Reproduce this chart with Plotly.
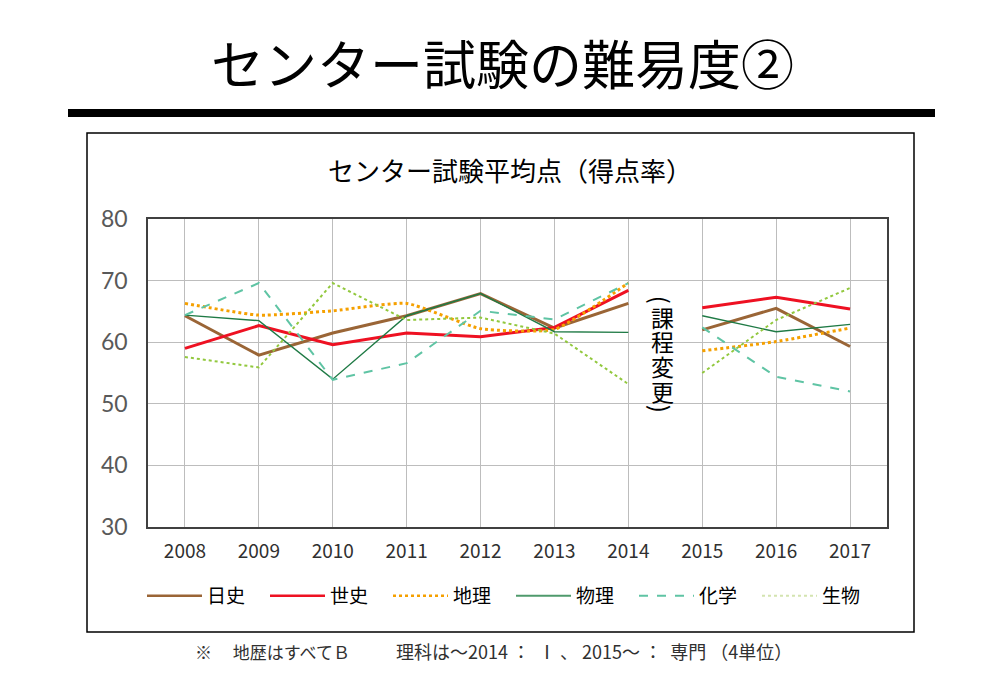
import plotly.graph_objects as go

# ---- data ----
years = [2008, 2009, 2010, 2011, 2012, 2013, 2014, 2015, 2016, 2017]
subjects = ["日史", "世史", "地理", "物理", "化学", "生物"]
nichi_shi = [64.3, 57.9, 61.5, 64.3, 67.9, 62.3, 66.3, 62.0, 65.5, 59.3]
se_shi = [59.0, 62.7, 59.6, 61.5, 60.9, 62.4, 68.4, 65.6, 67.3, 65.4]
chiri = [66.3, 64.4, 65.1, 66.3, 62.2, 62.1, 69.6, 58.6, 60.1, 62.3]
butsuri = [64.4, 63.5, 54.0, 64.3, 67.9, 61.7, 61.6, 64.3, 61.7, 62.9]
kagaku = [64.4, 69.6, 53.9, 56.6, 65.1, 63.7, 69.6, 62.4, 54.4, 52.0]
seibutsu = [57.6, 55.9, 69.6, 63.6, 64.0, 61.4, 53.2, 55.0, 63.6, 68.8]
y_ticks = [30, 40, 50, 60, 70, 80]
curriculum_change_year = 2015   # lines break between 2014 and 2015

series_values = [nichi_shi, se_shi, chiri, butsuri, kagaku, seibutsu]

# ---- styles ----
styles = [
    dict(color="#9a6536", width=3, dash="solid", shape="linear"),
    dict(color="#ee1122", width=3, dash="solid", shape="linear"),
    dict(color="#f5a000", width=3, dash="dot", shape="spline"),
    dict(color="#1f7a45", width=1.4, dash="solid", shape="linear"),
    dict(color="#5fc4a4", width=2, dash="dash", shape="linear"),
    dict(color="#92c83e", width=2, dash="dot", shape="linear"),
]
legend_colors = ["#9a6536", "#ee1122", "#f5a000", "#4f9a6c", "#5fc4a4", "#d4e4b0"]

# plot area in pixels
L, R, T, B = 148, 887, 219, 527
W, H = 1000, 700


def px(x):
    return (x - L) / (R - L)


def py(y):
    return (B - y) / (B - T)


fig = go.Figure()

for name, vals, st, lc in zip(subjects, series_values, styles, legend_colors):
    xs, ys = [], []
    for yr, v in zip(years, vals):
        if yr == curriculum_change_year:
            xs.append(None)
            ys.append(None)
        xs.append(yr)
        ys.append(v)
    fig.add_trace(go.Scatter(
        x=xs, y=ys, mode="lines", name=name, showlegend=False,
        line=dict(color=st["color"], width=st["width"], dash=st["dash"],
                  shape=st["shape"], smoothing=0.5 if st["shape"] == "spline" else None),
        connectgaps=False, hoverinfo="x+y+name",
    ))
    # legend-only entry
    fig.add_trace(go.Scatter(
        x=[None], y=[None], mode="lines", name=name, showlegend=True,
        line=dict(color=lc, width=2.5 if st["width"] >= 2.5 else 2, dash=st["dash"]),
    ))

fig.update_xaxes(
    range=[2007.5, 2017.5], tickvals=years, ticktext=[str(y) for y in years],
    showgrid=True, gridcolor="#bdbdbd", gridwidth=1,
    showline=True, linecolor="#404040", linewidth=1.5, mirror=True,
    ticks="", ticklabelstandoff=6,
    tickfont=dict(family="Noto Sans CJK JP", size=19, color="#303030"),
    zeroline=False,
)
fig.update_yaxes(
    range=[30, 80], tickvals=y_ticks,
    showgrid=True, gridcolor="#bdbdbd", gridwidth=1,
    showline=True, linecolor="#404040", linewidth=1.5, mirror=True,
    ticks="", ticklabelstandoff=14,
    tickfont=dict(family="Lato", size=23, color="#595959"),
    zeroline=False,
)

shapes = [
    # outer frame
    dict(type="rect", xref="paper", yref="paper",
         x0=px(87), x1=px(914), y0=py(632), y1=py(133),
         line=dict(color="#000000", width=1.5), fillcolor="rgba(0,0,0,0)", layer="below"),
    # thick title bar
    dict(type="rect", xref="paper", yref="paper",
         x0=px(68), x1=px(935), y0=py(117), y1=py(109),
         line=dict(width=0), fillcolor="#000000"),
]

annotations = [
    dict(text="センター試験の難易度②", xref="paper", yref="paper",
         x=px(502), y=py(62), xanchor="center", yanchor="middle", showarrow=False,
         font=dict(family="Noto Sans CJK JP", size=53, color="#000000")),
    dict(text="センター試験平均点（得点率）", xref="paper", yref="paper",
         x=px(510), y=py(170), xanchor="center", yanchor="middle", showarrow=False,
         font=dict(family="Noto Sans CJK JP", size=26, color="#000000")),
    dict(text="※　 地歴はすべてＢ",
         xref="paper", yref="paper",
         x=px(193), y=py(651), xanchor="left", yanchor="middle", showarrow=False,
         font=dict(family="Noto Sans CJK JP", size=17, color="#303030")),
    dict(text="理科は～2014 ：  Ⅰ 、 2015～ ：  専門 （4単位）",
         xref="paper", yref="paper",
         x=px(394), y=py(651), xanchor="left", yanchor="middle", showarrow=False,
         font=dict(family="Noto Sans CJK JP", size=18, color="#303030")),
]

# vertical note (curriculum change): one character per line
note_chars = ["(", "課", "程", "変", "更", ")"]
note_centers_px = [300, 317, 341, 366, 391, 409]
note_angles = [90, 0, 0, 0, 0, 90]
note_sizes = [24, 23, 23, 23, 23, 24]
for ch, cy, ang, sz in zip(note_chars, note_centers_px, note_angles, note_sizes):
    annotations.append(dict(
        text=ch, xref="x", yref="paper", x=2014.46, y=py(cy),
        xanchor="center", yanchor="middle", showarrow=False, textangle=ang,
        font=dict(family="Noto Sans CJK JP", size=sz, color="#000000"),
    ))

fig.update_layout(
    width=W, height=H,
    margin=dict(l=L, r=W - R, t=T, b=H - B, pad=0),
    paper_bgcolor="#ffffff", plot_bgcolor="#ffffff",
    shapes=shapes, annotations=annotations,
    legend=dict(
        orientation="h", x=px(142), y=py(596), xanchor="left", yanchor="middle",
        entrywidth=53, entrywidthmode="pixels", itemwidth=55,
        font=dict(family="Noto Sans CJK JP", size=19, color="#000000"),
        bgcolor="rgba(0,0,0,0)", traceorder="normal",
    ),
    font=dict(family="Noto Sans CJK JP"),
)

fig.write_html("out.html", config={"displayModeBar": False},
               post_script="document.body.style.margin='0px';")
